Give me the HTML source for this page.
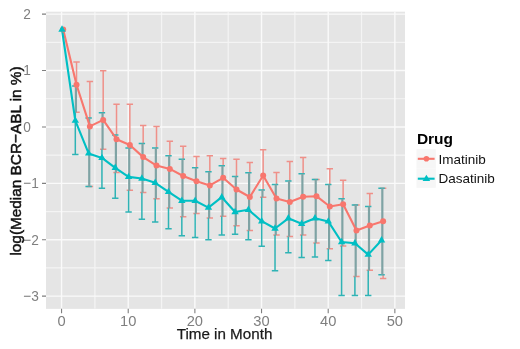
<!DOCTYPE html>
<html><head><meta charset="utf-8"><style>
html,body{margin:0;padding:0;background:#fff;}
svg{display:block;filter:blur(0.3px);font-family:"Liberation Sans",sans-serif;}
</style></head><body>
<svg width="520" height="349" viewBox="0 0 520 349">
<rect width="520" height="349" fill="#fff"/>
<rect x="46.0" y="11.7" width="359.0" height="297.15000000000003" fill="#E5E5E5"/>
<line x1="46.0" x2="405.0" y1="42.37" y2="42.37" stroke="#F4F4F4" stroke-width="1.2"/>
<line x1="46.0" x2="405.0" y1="98.77" y2="98.77" stroke="#F4F4F4" stroke-width="1.2"/>
<line x1="46.0" x2="405.0" y1="155.17" y2="155.17" stroke="#F4F4F4" stroke-width="1.2"/>
<line x1="46.0" x2="405.0" y1="211.57" y2="211.57" stroke="#F4F4F4" stroke-width="1.2"/>
<line x1="46.0" x2="405.0" y1="267.97" y2="267.97" stroke="#F4F4F4" stroke-width="1.2"/>
<line y1="11.7" y2="308.85" x1="94.89" x2="94.89" stroke="#F4F4F4" stroke-width="1.2"/>
<line y1="11.7" y2="308.85" x1="161.55" x2="161.55" stroke="#F4F4F4" stroke-width="1.2"/>
<line y1="11.7" y2="308.85" x1="228.21" x2="228.21" stroke="#F4F4F4" stroke-width="1.2"/>
<line y1="11.7" y2="308.85" x1="294.87" x2="294.87" stroke="#F4F4F4" stroke-width="1.2"/>
<line y1="11.7" y2="308.85" x1="361.53" x2="361.53" stroke="#F4F4F4" stroke-width="1.2"/>
<line x1="46.0" x2="405.0" y1="14.17" y2="14.17" stroke="#FAFAFA" stroke-width="1.4"/>
<line x1="46.0" x2="405.0" y1="70.57" y2="70.57" stroke="#FAFAFA" stroke-width="1.4"/>
<line x1="46.0" x2="405.0" y1="126.97" y2="126.97" stroke="#FAFAFA" stroke-width="1.4"/>
<line x1="46.0" x2="405.0" y1="183.37" y2="183.37" stroke="#FAFAFA" stroke-width="1.4"/>
<line x1="46.0" x2="405.0" y1="239.77" y2="239.77" stroke="#FAFAFA" stroke-width="1.4"/>
<line x1="46.0" x2="405.0" y1="296.17" y2="296.17" stroke="#FAFAFA" stroke-width="1.4"/>
<line y1="11.7" y2="308.85" x1="61.56" x2="61.56" stroke="#FAFAFA" stroke-width="1.4"/>
<line y1="11.7" y2="308.85" x1="128.22" x2="128.22" stroke="#FAFAFA" stroke-width="1.4"/>
<line y1="11.7" y2="308.85" x1="194.88" x2="194.88" stroke="#FAFAFA" stroke-width="1.4"/>
<line y1="11.7" y2="308.85" x1="261.54" x2="261.54" stroke="#FAFAFA" stroke-width="1.4"/>
<line y1="11.7" y2="308.85" x1="328.20" x2="328.20" stroke="#FAFAFA" stroke-width="1.4"/>
<line y1="11.7" y2="308.85" x1="394.86" x2="394.86" stroke="#FAFAFA" stroke-width="1.4"/>
<path d="M73.33 61.90H79.73M73.33 112.30H79.73M76.53 61.90V86.00M86.66 81.60H93.06M86.66 186.40H93.06M89.86 81.60V118.00M99.99 70.70H106.39M99.99 149.20H106.39M103.19 70.70V112.80M113.32 104.30H119.72M113.32 172.60H119.72M116.52 104.30V135.00M126.65 104.30H133.05M126.65 190.30H133.05M129.85 104.30V148.00M139.98 125.60H146.38M139.98 192.60H146.38M143.18 125.60V143.60M153.31 126.40H159.71M153.31 198.80H159.71M156.51 126.40V148.00M166.64 141.30H173.04M166.64 208.10H173.04M169.84 141.30V155.70M179.97 146.20H186.37M179.97 216.80H186.37M183.17 146.20V159.20M193.30 156.60H199.70M193.30 213.40H199.70M196.50 156.60V167.70M206.63 155.70H213.03M206.63 218.00H213.03M209.83 155.70V171.80M219.96 158.50H226.36M219.96 216.20H226.36M223.16 158.50V165.80M233.29 159.20H239.69M233.29 225.80H239.69M236.49 159.20V176.50M246.62 162.60H253.02M246.62 230.50H253.02M249.82 162.60V172.80M259.95 149.70H266.35M259.95 197.20H266.35M263.15 149.70V190.00M273.28 172.50H279.68M273.28 235.00H279.68M276.48 172.50V184.60M286.61 161.50H293.01M286.61 236.60H293.01M289.81 161.50V181.00M299.94 157.50H306.34M299.94 235.00H306.34M303.14 157.50V173.80M313.27 179.50H319.67M313.27 243.10H319.67M326.60 168.70H333.00M326.60 248.80H333.00M329.80 168.70V184.60M339.93 180.20H346.33M339.93 246.00H346.33M343.13 180.20V198.70M353.26 205.00H359.66M353.26 276.50H359.66M366.59 193.60H372.99M366.59 270.30H372.99M369.79 193.60V206.50M379.92 188.30H386.32M379.92 278.40H386.32M383.12 274.70V278.40" stroke="#ef9089" stroke-width="1.5" fill="none"/>
<path d="M72.11 86.00H78.51M72.11 154.50H78.51M75.31 112.30V154.50M85.43 118.00H91.83M85.43 186.40H91.83M98.74 112.80H105.14M98.74 188.20H105.14M101.94 149.20V188.20M112.06 135.00H118.46M112.06 198.20H118.46M115.26 172.60V198.20M125.37 148.00H131.77M125.37 212.00H131.77M128.57 190.30V212.00M138.68 143.60H145.08M138.68 219.20H145.08M141.88 192.60V219.20M152.00 148.00H158.40M152.00 222.00H158.40M155.20 198.80V222.00M165.31 155.70H171.71M165.31 228.80H171.71M168.51 208.10V228.80M178.63 159.20H185.03M178.63 235.80H185.03M181.83 216.80V235.80M191.94 167.70H198.34M191.94 237.60H198.34M195.14 213.40V237.60M205.25 171.80H211.65M205.25 239.70H211.65M208.45 218.00V239.70M218.57 165.80H224.97M218.57 235.10H224.97M221.77 216.20V235.10M231.88 176.50H238.28M231.88 234.20H238.28M235.08 225.80V234.20M245.20 172.80H251.60M245.20 239.70H251.60M248.40 230.50V239.70M258.51 190.00H264.91M258.51 246.20H264.91M261.71 197.20V246.20M271.82 184.60H278.22M271.82 270.80H278.22M275.02 235.00V270.80M285.14 181.00H291.54M285.14 252.80H291.54M288.34 236.60V252.80M298.45 173.80H304.85M298.45 257.60H304.85M301.65 235.00V257.60M311.77 179.50H318.17M311.77 256.90H318.17M314.97 243.10V256.90M325.08 184.60H331.48M325.08 260.40H331.48M328.28 248.80V260.40M338.39 198.70H344.79M338.39 295.50H344.79M341.59 246.00V295.50M351.71 204.90H358.11M351.71 295.50H358.11M354.91 204.90V205.00M354.91 276.50V295.50M365.02 206.50H371.42M365.02 295.50H371.42M368.22 270.30V295.50M378.34 188.30H384.74M378.34 274.70H384.74" stroke="#2fb3b5" stroke-width="1.5" fill="none"/>
<path d="M75.92 86.00V112.30M89.24 118.00V186.40M102.57 112.80V149.20M115.89 135.00V172.60M129.21 148.00V190.30M142.53 143.60V192.60M155.85 148.00V198.80M169.18 155.70V208.10M182.50 159.20V216.80M195.82 167.70V213.40M209.14 171.80V218.00M222.46 165.80V216.20M235.79 176.50V225.80M249.11 172.80V230.50M262.43 190.00V197.20M275.75 184.60V235.00M289.07 181.00V236.60M302.40 173.80V235.00M315.72 179.50V243.10M329.04 184.60V248.80M342.36 198.70V246.00M355.68 205.00V276.50M369.01 206.50V270.30M382.33 188.30V274.70" stroke="#7fa3a4" stroke-width="2.2" fill="none"/>
<polyline points="63.20,29.50 76.53,84.80 89.86,126.40 103.19,119.90 116.52,139.20 129.85,145.00 143.18,157.10 156.51,165.60 169.84,168.90 183.17,176.00 196.50,181.30 209.83,185.40 223.16,177.80 236.49,189.50 249.82,197.00 263.15,175.50 276.48,198.60 289.81,201.90 303.14,196.70 316.47,196.20 329.80,206.50 343.13,204.20 356.46,230.50 369.79,225.40 383.12,221.30" stroke="#F8766D" stroke-width="2.1" fill="none" stroke-linejoin="round"/>
<polyline points="62.00,29.50 75.31,120.60 88.63,153.40 101.94,157.90 115.26,167.80 128.57,176.90 141.88,178.50 155.20,182.80 168.51,191.90 181.83,200.70 195.14,200.70 208.45,207.60 221.77,197.20 235.08,212.00 248.40,209.70 261.71,221.20 275.02,228.50 288.34,218.30 301.65,223.70 314.97,218.30 328.28,221.40 341.59,242.00 354.91,243.20 368.22,254.60 381.54,240.30" stroke="#00BFC4" stroke-width="2.1" fill="none" stroke-linejoin="round"/>
<circle cx="63.20" cy="29.50" r="3.0" fill="#F8766D"/>
<circle cx="76.53" cy="84.80" r="3.0" fill="#F8766D"/>
<circle cx="89.86" cy="126.40" r="3.0" fill="#F8766D"/>
<circle cx="103.19" cy="119.90" r="3.0" fill="#F8766D"/>
<circle cx="116.52" cy="139.20" r="3.0" fill="#F8766D"/>
<circle cx="129.85" cy="145.00" r="3.0" fill="#F8766D"/>
<circle cx="143.18" cy="157.10" r="3.0" fill="#F8766D"/>
<circle cx="156.51" cy="165.60" r="3.0" fill="#F8766D"/>
<circle cx="169.84" cy="168.90" r="3.0" fill="#F8766D"/>
<circle cx="183.17" cy="176.00" r="3.0" fill="#F8766D"/>
<circle cx="196.50" cy="181.30" r="3.0" fill="#F8766D"/>
<circle cx="209.83" cy="185.40" r="3.0" fill="#F8766D"/>
<circle cx="223.16" cy="177.80" r="3.0" fill="#F8766D"/>
<circle cx="236.49" cy="189.50" r="3.0" fill="#F8766D"/>
<circle cx="249.82" cy="197.00" r="3.0" fill="#F8766D"/>
<circle cx="263.15" cy="175.50" r="3.0" fill="#F8766D"/>
<circle cx="276.48" cy="198.60" r="3.0" fill="#F8766D"/>
<circle cx="289.81" cy="201.90" r="3.0" fill="#F8766D"/>
<circle cx="303.14" cy="196.70" r="3.0" fill="#F8766D"/>
<circle cx="316.47" cy="196.20" r="3.0" fill="#F8766D"/>
<circle cx="329.80" cy="206.50" r="3.0" fill="#F8766D"/>
<circle cx="343.13" cy="204.20" r="3.0" fill="#F8766D"/>
<circle cx="356.46" cy="230.50" r="3.0" fill="#F8766D"/>
<circle cx="369.79" cy="225.40" r="3.0" fill="#F8766D"/>
<circle cx="383.12" cy="221.30" r="3.0" fill="#F8766D"/>
<path d="M62.00 25.30L65.70 31.70L58.30 31.70Z" fill="#00BFC4"/>
<path d="M75.31 116.40L79.01 122.80L71.61 122.80Z" fill="#00BFC4"/>
<path d="M88.63 149.20L92.33 155.60L84.93 155.60Z" fill="#00BFC4"/>
<path d="M101.94 153.70L105.64 160.10L98.24 160.10Z" fill="#00BFC4"/>
<path d="M115.26 163.60L118.96 170.00L111.56 170.00Z" fill="#00BFC4"/>
<path d="M128.57 172.70L132.27 179.10L124.87 179.10Z" fill="#00BFC4"/>
<path d="M141.88 174.30L145.58 180.70L138.18 180.70Z" fill="#00BFC4"/>
<path d="M155.20 178.60L158.90 185.00L151.50 185.00Z" fill="#00BFC4"/>
<path d="M168.51 187.70L172.21 194.10L164.81 194.10Z" fill="#00BFC4"/>
<path d="M181.83 196.50L185.53 202.90L178.13 202.90Z" fill="#00BFC4"/>
<path d="M195.14 196.50L198.84 202.90L191.44 202.90Z" fill="#00BFC4"/>
<path d="M208.45 203.40L212.15 209.80L204.75 209.80Z" fill="#00BFC4"/>
<path d="M221.77 193.00L225.47 199.40L218.07 199.40Z" fill="#00BFC4"/>
<path d="M235.08 207.80L238.78 214.20L231.38 214.20Z" fill="#00BFC4"/>
<path d="M248.40 205.50L252.10 211.90L244.70 211.90Z" fill="#00BFC4"/>
<path d="M261.71 217.00L265.41 223.40L258.01 223.40Z" fill="#00BFC4"/>
<path d="M275.02 224.30L278.72 230.70L271.32 230.70Z" fill="#00BFC4"/>
<path d="M288.34 214.10L292.04 220.50L284.64 220.50Z" fill="#00BFC4"/>
<path d="M301.65 219.50L305.35 225.90L297.95 225.90Z" fill="#00BFC4"/>
<path d="M314.97 214.10L318.67 220.50L311.27 220.50Z" fill="#00BFC4"/>
<path d="M328.28 217.20L331.98 223.60L324.58 223.60Z" fill="#00BFC4"/>
<path d="M341.59 237.80L345.29 244.20L337.89 244.20Z" fill="#00BFC4"/>
<path d="M354.91 239.00L358.61 245.40L351.21 245.40Z" fill="#00BFC4"/>
<path d="M368.22 250.40L371.92 256.80L364.52 256.80Z" fill="#00BFC4"/>
<path d="M381.54 236.10L385.24 242.50L377.84 242.50Z" fill="#00BFC4"/>
<path d="M42 14.17H46.0M42 70.57H46.0M42 126.97H46.0M42 183.37H46.0M42 239.77H46.0M42 296.17H46.0M61.56 308.85V313.2M128.22 308.85V313.2M194.88 308.85V313.2M261.54 308.85V313.2M328.20 308.85V313.2M394.86 308.85V313.2" stroke="#7F7F7F" stroke-width="1.1" fill="none"/>
<text transform="translate(23.2,19.07) scale(0.92,1)" font-size="14.9" fill="#7F7F7F">2</text>
<text transform="translate(23.2,75.47) scale(0.92,1)" font-size="14.9" fill="#7F7F7F">1</text>
<text transform="translate(23.2,131.87) scale(0.92,1)" font-size="14.9" fill="#7F7F7F">0</text>
<text transform="translate(23.2,188.27) scale(0.92,1)" font-size="14.9" fill="#7F7F7F">−1</text>
<text transform="translate(23.2,244.67) scale(0.92,1)" font-size="14.9" fill="#7F7F7F">−2</text>
<text transform="translate(23.2,301.07) scale(0.92,1)" font-size="14.9" fill="#7F7F7F">−3</text>
<text x="61.56" y="325.8" font-size="14.7" fill="#7F7F7F" text-anchor="middle">0</text>
<text x="128.22" y="325.8" font-size="14.7" fill="#7F7F7F" text-anchor="middle">10</text>
<text x="194.88" y="325.8" font-size="14.7" fill="#7F7F7F" text-anchor="middle">20</text>
<text x="261.54" y="325.8" font-size="14.7" fill="#7F7F7F" text-anchor="middle">30</text>
<text x="328.20" y="325.8" font-size="14.7" fill="#7F7F7F" text-anchor="middle">40</text>
<text x="394.86" y="325.8" font-size="14.7" fill="#7F7F7F" text-anchor="middle">50</text>
<text x="224.5" y="339.2" font-size="15.2" fill="#1a1a1a" stroke="#1a1a1a" stroke-width="0.25" text-anchor="middle">Time in Month</text>
<text transform="translate(20.6,161) rotate(-90)" font-size="15.35" fill="#111" stroke="#111" stroke-width="0.5" text-anchor="middle">log(Median BCR−ABL in %)</text>
<text x="416.9" y="143.9" font-size="15.5" font-weight="bold" fill="#000">Drug</text>
<rect x="416.5" y="149.2" width="19.3" height="19.3" fill="#F6F6F6"/>
<rect x="416.5" y="168.5" width="19.3" height="19.3" fill="#F6F6F6"/>
<line x1="417.8" x2="434.6" y1="158.8" y2="158.8" stroke="#F8766D" stroke-width="2.1"/>
<circle cx="426.4" cy="158.8" r="2.8" fill="#F8766D"/>
<line x1="417.8" x2="434.6" y1="178.7" y2="178.7" stroke="#00BFC4" stroke-width="2.1"/>
<path d="M426.4 174.8L430.2 181.0L422.6 181.0Z" fill="#00BFC4"/>
<text x="438.5" y="163.5" font-size="13.5" fill="#111">Imatinib</text>
<text x="438.5" y="183.1" font-size="13.5" fill="#111">Dasatinib</text>
</svg>
</body></html>
